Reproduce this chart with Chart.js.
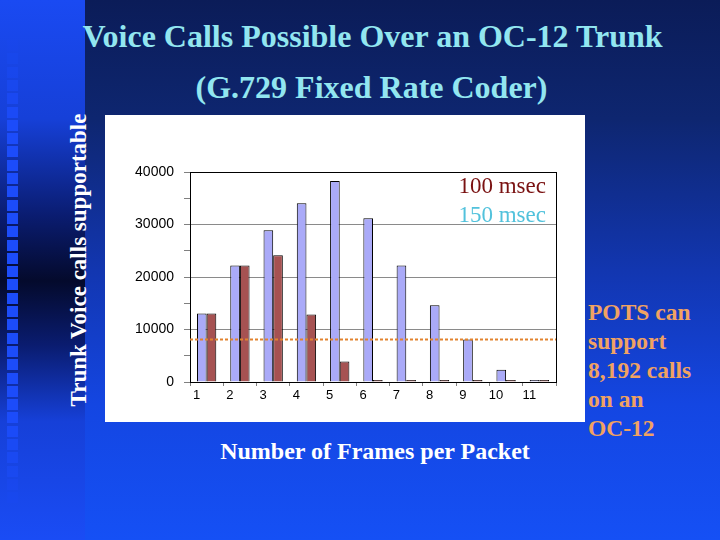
<!DOCTYPE html>
<html lang="en">
<head>
  <meta charset="UTF-8" />
  <title>Voice Calls Possible Over an OC-12 Trunk</title>
  <script src="https://cdn.jsdelivr.net/npm/chart.js"></script>
  <style>
    html, body { margin: 0; padding: 0; }
    body {
      width: 720px; height: 540px; position: relative; overflow: hidden;
      background: linear-gradient(to bottom, #0b1c58 0%, #0e2670 22%, #1236b0 50%, #1446e2 75%, #1550f5 100%);
      font-family: "Liberation Serif", "Times New Roman", serif;
    }
    #strip {
      position: absolute; left: 0; top: 0; width: 85px; height: 540px;
      background: linear-gradient(to bottom, #1a4af2 0%, #1640d8 22%, #0a1c70 40%, #040a2c 52%, #0a1c70 64%, #1640d8 78%, #1a4cf5 100%);
    }
    .sq { position: absolute; left: 7px; width: 11px; height: 11px; background: #1c4cfa; }
    .txt { position: absolute; font-weight: bold; white-space: nowrap; }
    #title { left: 0; width: 745px; text-align: center; top: 18px; font-size: 32px; color: #92e6f0; }
    #subtitle { left: 0; width: 743px; text-align: center; top: 69px; font-size: 32px; color: #92e6f0; }
    #ytitle { left: 79px; top: 260px; font-size: 23px; color: #fff; transform: translate(-50%, -50%) rotate(-90deg); }
    #xtitle { left: 375px; top: 451px; font-size: 24px; color: #fff; transform: translate(-50%, -50%); }
    #pots { left: 588px; top: 298px; font-size: 23.5px; line-height: 29px; color: #f0a262; white-space: normal; }
    #chartBox { position: absolute; left: 105px; top: 115px; width: 480px; height: 307px; background: #fff; }
    .leg { position: absolute; right: 39px; font-size: 23px; font-family: "Liberation Serif", serif; }
  </style>
</head>
<body>
  <div id="strip"></div>
  <div class="txt" id="title">Voice Calls Possible Over an OC-12 Trunk</div>
  <div class="txt" id="subtitle">(G.729 Fixed Rate Coder)</div>
  <div class="txt" id="ytitle">Trunk Voice calls supportable</div>

  <div id="chartBox">
    <canvas id="callsChart" width="480" height="307"></canvas>
    <div class="leg" style="top:58px;color:#7a1212;">100 msec</div>
    <div class="leg" style="top:87px;color:#52c2dc;">150 msec</div>
  </div>

  <div class="txt" id="xtitle">Number of Frames per Packet</div>
  <div class="txt" id="pots">POTS can<br>support<br>8,192 calls<br>on an<br>OC-12</div>

  <script>
    // frames per packet on the x axis
    const frameCounts = ['1', '2', '3', '4', '5', '6', '7', '8', '9', '10', '11'];
    // calls supportable for each delay budget
    const calls150ms = [13050, 22200, 28900, 34050, 38300, 31200, 22200, 14600, 8100, 2350, 0];
    const calls100ms = [13050, 22200, 24150, 12850, 3900, 0, 0, 0, 0, 0, 0];
    const potsLimit = 8192;
    const yMax = 40000;
    const yLabelStep = 10000;
    const yMinorStep = 5000;

    // decorative squares down the left edge
    const strip = document.getElementById('strip');
    for (let i = 0; i < 35; i++) {
      const y = 40 + i * 13.3;
      const sq = document.createElement('div');
      sq.className = 'sq';
      sq.style.top = y + 'px';
      const fade = Math.min(1, (y - 30) / 90, (510 - y) / 90);
      sq.style.opacity = Math.max(0.15, fade);
      strip.appendChild(sq);
    }

    // plot frame + POTS reference line
    const framePlugin = {
      id: 'frame',
      beforeDatasetsDraw(chart) {
        const a = chart.chartArea;
        const ctx = chart.ctx;
        ctx.save();
        ctx.strokeStyle = '#000';
        ctx.lineWidth = 1;
        ctx.strokeRect(a.left + 0.5, a.top + 0.5, a.right - a.left, a.bottom - a.top);
        ctx.restore();
      },
      afterDatasetsDraw(chart) {
        const a = chart.chartArea;
        const ctx = chart.ctx;
        const y = Math.round(chart.scales.y.getPixelForValue(potsLimit)) + 0.5;
        ctx.save();
        ctx.strokeStyle = '#e2832e';
        ctx.lineWidth = 2;
        ctx.setLineDash([3, 2]);
        ctx.beginPath();
        ctx.moveTo(a.left, y);
        ctx.lineTo(a.right, y);
        ctx.stroke();
        ctx.restore();
      }
    };

    const ctx = document.getElementById('callsChart').getContext('2d');
    new Chart(ctx, {
      type: 'bar',
      data: {
        labels: frameCounts,
        datasets: [
          {
            label: '150 msec',
            data: calls150ms,
            backgroundColor: '#aaaaf8',
            borderColor: '#000',
            borderWidth: 1,
            minBarLength: 2
          },
          {
            label: '100 msec',
            data: calls100ms,
            backgroundColor: '#a65252',
            borderColor: '#000',
            borderWidth: 1,
            minBarLength: 2
          }
        ]
      },
      options: {
        responsive: false,
        animation: false,
        events: [],
        layout: { padding: { top: 57, right: 29, left: 0, bottom: 0 } },
        datasets: { bar: { categoryPercentage: 0.58, barPercentage: 1.0 } },
        plugins: {
          legend: { display: false },
          tooltip: { enabled: false }
        },
        scales: {
          x: {
            afterFit(scale) { scale.height = 40; },
            grid: { drawOnChartArea: false, tickLength: 4, tickColor: '#808080' },
            border: { color: '#000' },
            ticks: {
              color: '#000',
              font: { family: 'Liberation Sans', size: 13 },
              labelOffset: -10,
              padding: 2
            }
          },
          y: {
            min: 0,
            max: yMax,
            afterFit(scale) { scale.width = 85; },
            grid: {
              color: c => (c.tick && c.tick.value % yLabelStep === 0) ? '#8a8a8a' : 'rgba(0,0,0,0)',
              tickColor: '#808080',
              tickLength: 6
            },
            border: { color: '#000' },
            ticks: {
              stepSize: yMinorStep,
              color: '#000',
              font: { family: 'Liberation Sans', size: 14 },
              padding: 10,
              callback: v => (v % yLabelStep === 0) ? String(v) : ''
            }
          }
        }
      },
      plugins: [framePlugin]
    });
  </script>
</body>
</html>
